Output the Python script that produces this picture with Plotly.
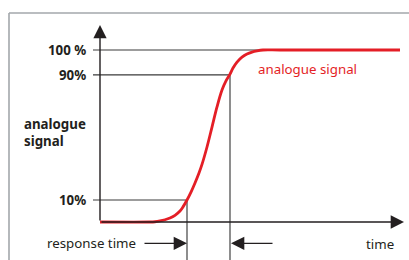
import plotly.graph_objects as go

# ---- data (schematic step response) ----
time_pts = [0, 5.0, 5.5, 6.0, 6.5, 7.0, 7.5, 8.0, 8.3, 8.7, 9.1, 9.5, 9.9, 10.2, 10.7, 11.2, 11.7, 12.2, 12.6, 13.0,
            13.3, 13.7, 14.2, 14.7, 15.2, 15.7, 16.3, 18, 30]
signal_pts = [0, 0, 0.15, 0.6, 1.3, 2.3, 3.9, 6.4, 8.8, 12.8, 17.4, 22.7, 28.5, 33.5, 43.6, 55.2, 66.9, 76.7, 82.0, 86.0,
              89.5, 93.0, 95.9, 97.7, 98.8, 99.5, 100, 100, 100]
level_labels = ["10%", "90%", "100 %"]
level_values = [12.8, 85.5, 100]
t10 = 8.7
t90 = 13.0
t100 = 16.3

RED = "#e41e26"
INK = "#231f20"
LINE = "#3a3a3a"
FONT = "Noto Sans"
FS = 13.3

fig = go.Figure()
fig.add_trace(go.Scatter(x=time_pts, y=signal_pts, mode="lines",
                         line=dict(color=RED, width=2.8, shape="spline", smoothing=1.0),
                         hoverinfo="skip", showlegend=False))

xr = [-10, 30.9]
yr = [-22.09, 129.07]
lab_x = -1.2
guide_x0 = -0.7
y_bottom = -22.5
arrow_y = -12.4

shapes = []
# border
shapes.append(dict(type="line", xref="paper", yref="paper", x0=9/409, x1=1.02, y0=1-13/260, y1=1-13/260,
                   line=dict(color="#a3a7ab", width=1.6)))
shapes.append(dict(type="line", xref="paper", yref="paper", x0=9/409, x1=9/409, y0=1-13/260, y1=-0.05,
                   line=dict(color="#a3a7ab", width=1.6)))
# guide lines
ends = [t10, t90, t100]
for lv, te in zip(level_values, ends):
    shapes.append(dict(type="line", x0=guide_x0, x1=te, y0=lv, y1=lv, line=dict(color=LINE, width=1.15), layer="below"))
for lv, te in zip(level_values[:2], ends[:2]):
    shapes.append(dict(type="line", x0=te, x1=te, y0=lv, y1=y_bottom, line=dict(color=LINE, width=1.15), layer="below"))

annotations = []
arrow_kw = dict(xref="x", yref="y", axref="x", ayref="y", text="", showarrow=True, arrowhead=2,
                arrowsize=1.9, arrowwidth=1.4, arrowcolor=INK, standoff=0)
# axes arrows
annotations.append(dict(x=0, y=114.5, ax=0, ay=0, **arrow_kw))
annotations.append(dict(x=30.4, y=0, ax=0, ay=0, **arrow_kw))
# response time arrows
annotations.append(dict(x=t10, y=arrow_y, ax=4.3, ay=arrow_y, **arrow_kw))
annotations.append(dict(x=t90 + 0.1, y=arrow_y, ax=17.4, ay=arrow_y, **arrow_kw))
# level labels
for lab, lv in zip(level_labels, level_values):
    annotations.append(dict(x=lab_x, y=lv, xref="x", yref="y", text="<b>" + lab + "</b>", showarrow=False,
                            xanchor="right", yanchor="middle", font=dict(family=FONT, size=FS, color=INK)))
annotations.append(dict(x=-7.8, y=(222-132)/1.72, xref="x", yref="y", text="<b>analogue<br>signal</b>", showarrow=False,
                        xanchor="left", yanchor="middle", align="left",
                        font=dict(family=FONT, size=FS, color=INK)))
annotations.append(dict(x=3.8, y=arrow_y, xref="x", yref="y", text="response time", showarrow=False,
                        xanchor="right", yanchor="middle", font=dict(family=FONT, size=FS, color=INK)))
annotations.append(dict(x=26.4, y=arrow_y - 0.6, xref="x", yref="y", text="time", showarrow=False,
                        xanchor="left", yanchor="middle", font=dict(family=FONT, size=FS, color=INK)))
annotations.append(dict(x=15.6, y=(222-69)/1.72, xref="x", yref="y", text="analogue signal", showarrow=False,
                        xanchor="left", yanchor="middle", font=dict(family=FONT, size=FS, color=RED)))

fig.update_layout(width=409, height=260, margin=dict(l=0, r=0, t=0, b=0),
                  paper_bgcolor="white", plot_bgcolor="white",
                  xaxis=dict(range=xr, visible=False, fixedrange=True),
                  yaxis=dict(range=yr, visible=False, fixedrange=True),
                  shapes=shapes, annotations=annotations, showlegend=False)
fig.write_html("out.html", config={"displayModeBar": False},
               post_script="document.body.style.margin='0';document.body.style.overflow='hidden';")
